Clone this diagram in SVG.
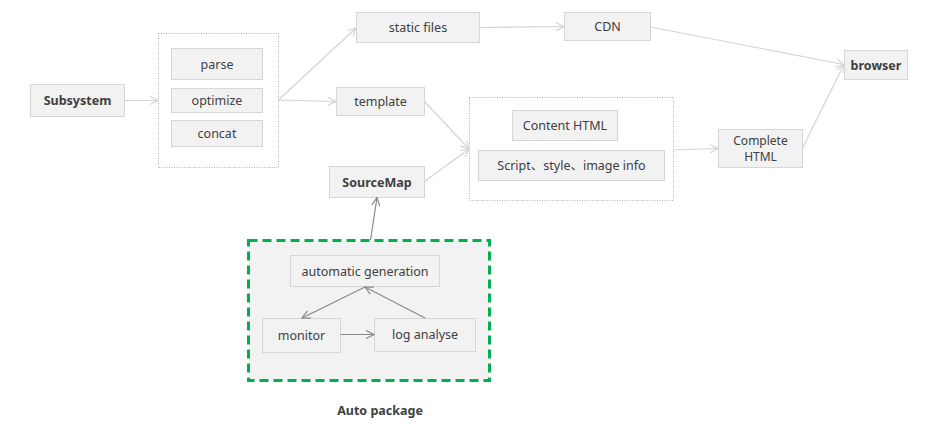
<svg xmlns="http://www.w3.org/2000/svg" width="928" height="424" viewBox="0 0 928 424">
<style>
text{font-family:"Microsoft YaHei","Noto Sans","Noto Sans CJK SC",sans-serif;font-size:12.5px;fill:#404040;text-anchor:middle;dominant-baseline:central}
.b{font-weight:bold}
.n{fill:#f2f2f2;stroke:#d6d6d6;stroke-width:1}
.g{fill:#fff;stroke:#b0b0b0;stroke-width:1;stroke-dasharray:1 1.5}
.c{fill:none;stroke:#d4d4d4;stroke-width:1.2;marker-end:url(#al)}
.d{fill:none;stroke:#8a8a8a;stroke-width:1.2;marker-end:url(#ad)}
</style>
<defs>
<marker id="al" viewBox="0 0 10 10" refX="9" refY="5" markerWidth="10" markerHeight="10" markerUnits="userSpaceOnUse" orient="auto"><path d="M1,1 L9,5 L1,9" fill="none" stroke="#d4d4d4" stroke-width="1.2"/></marker>
<marker id="ad" viewBox="0 0 10 10" refX="9" refY="5" markerWidth="10" markerHeight="10" markerUnits="userSpaceOnUse" orient="auto"><path d="M1,1 L9,5 L1,9" fill="none" stroke="#8a8a8a" stroke-width="1.2"/></marker>
</defs>
<rect width="928" height="424" fill="#fff"/>
<g id="autopkg">
<rect x="248.5" y="240.5" width="241" height="140" fill="#f2f2f2" stroke="#00b050" stroke-width="3" stroke-dasharray="9 5"/>
<text x="380" y="410" class="b">Auto package</text>
</g>
<g id="group1"><rect class="g" x="158.5" y="33.5" width="120" height="134"/></g>
<g id="group2"><rect class="g" x="469.5" y="97.5" width="204" height="103"/></g>
<g id="subsystem"><rect class="n" x="30.5" y="84.5" width="94" height="32"/><text x="77.5" y="100.5" class="b">Subsystem</text></g>
<g id="parse"><rect class="n" x="171.5" y="48.5" width="91" height="31"/><text x="217" y="64">parse</text></g>
<g id="optimize"><rect class="n" x="171.5" y="88.5" width="91" height="24"/><text x="217" y="100.5">optimize</text></g>
<g id="concat"><rect class="n" x="171.5" y="120.5" width="91" height="26"/><text x="217" y="133.5">concat</text></g>
<g id="static"><rect class="n" x="356.5" y="12.5" width="123" height="30"/><text x="418" y="27.5">static files</text></g>
<g id="cdn"><rect class="n" x="564.5" y="12.5" width="86" height="28"/><text x="607.5" y="26.5">CDN</text></g>
<g id="browser"><rect class="n" x="844.5" y="50.5" width="63" height="29"/><text x="876" y="65" class="b">browser</text></g>
<g id="template"><rect class="n" x="336.5" y="87.5" width="88" height="28"/><text x="380.5" y="101.5">template</text></g>
<g id="sourcemap"><rect class="n" x="329.5" y="166.5" width="95" height="31"/><text x="377" y="182" class="b">SourceMap</text></g>
<g id="content"><rect class="n" x="512.5" y="110.5" width="105" height="30"/><text x="565" y="125.5">Content HTML</text></g>
<g id="scriptinfo"><rect class="n" x="478.5" y="150.5" width="186" height="30"/><text x="571.5" y="165.5">Script、style、image info</text></g>
<g id="complete"><rect class="n" x="718.5" y="129.5" width="84" height="38"/><text x="760.5" y="140" style="font-size:12px">Complete</text><text x="760.5" y="156" style="font-size:12px">HTML</text></g>
<g id="autogen"><rect class="n" x="290.5" y="255.5" width="149" height="31"/><text x="365" y="271">automatic generation</text></g>
<g id="monitor"><rect class="n" x="262.5" y="318.5" width="78" height="34"/><text x="301.5" y="335.5">monitor</text></g>
<g id="loganalyse"><rect class="n" x="374.5" y="318.5" width="101" height="33"/><text x="425" y="334.5">log analyse</text></g>
<g id="connectors">
<path class="c" d="M124.5,100.5 L158,100.5"/>
<path class="c" d="M278.5,100 L356,28"/>
<path class="c" d="M278.5,100 L336,101.5"/>
<path class="c" d="M479.5,27.5 L564,26.5"/>
<path class="c" d="M650.5,27 L844,64.5"/>
<path class="c" d="M424.5,101.5 L469,149"/>
<path class="c" d="M424.5,181.5 L469,149"/>
<path class="c" d="M673.5,150 L718,148.5"/>
<path class="c" d="M802.5,148 L844,64.5"/>
<path class="d" d="M370.5,240 L377,197.5"/>
<path class="d" d="M365,287 L302,318"/>
<path class="d" d="M425,318 L365,287"/>
<path class="d" d="M340.5,334.5 L374,334.5"/>
</g>
</svg>
